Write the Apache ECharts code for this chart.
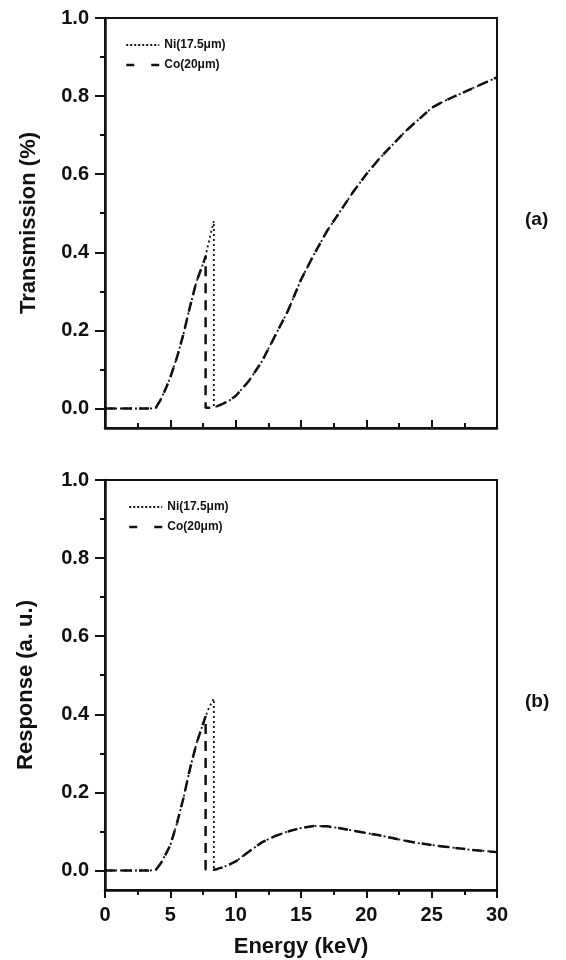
<!DOCTYPE html>
<html>
<head>
<meta charset="utf-8">
<script src="https://cdn.jsdelivr.net/npm/echarts@6/dist/echarts.min.js"></script>
<style>
html,body{margin:0;padding:0;background:#fff;}
#chart{width:566px;height:960px;}
</style>
</head>
<body>
<div id="chart"></div>
<script>
// ---- data ----
const energyNi = [0, 1, 2, 3, 3.5, 3.9, 4.3, 4.7, 5, 5.5, 6, 6.5, 7, 7.5, 7.7, 8, 8.33, 8.33, 8.6, 9, 9.5, 10, 11, 12, 13, 14, 15, 16, 17, 18, 19, 20, 21, 22, 23, 24, 25, 26, 27, 28, 29, 30];
const energyCo = [0, 1, 2, 3, 3.5, 3.9, 4.3, 4.7, 5, 5.5, 6, 6.5, 7, 7.5, 7.7, 7.7, 8, 8.33, 8.6, 9, 9.5, 10, 11, 12, 13, 14, 15, 16, 17, 18, 19, 20, 21, 22, 23, 24, 25, 26, 27, 28, 29, 30];

const transNi = [0, 0, 0, 0, 0, 0.002, 0.025, 0.055, 0.08, 0.13, 0.19, 0.26, 0.325, 0.37, 0.39, 0.435, 0.48, 0.003, 0.006, 0.012, 0.02, 0.032, 0.07, 0.12, 0.185, 0.25, 0.33, 0.395, 0.455, 0.505, 0.555, 0.60, 0.64, 0.675, 0.71, 0.74, 0.77, 0.788, 0.803, 0.818, 0.833, 0.848];
const transCo = [0, 0, 0, 0, 0, 0.002, 0.025, 0.055, 0.08, 0.13, 0.19, 0.26, 0.325, 0.37, 0.39, 0.002, 0.002, 0.003, 0.006, 0.012, 0.02, 0.032, 0.07, 0.12, 0.185, 0.25, 0.33, 0.395, 0.455, 0.505, 0.555, 0.60, 0.64, 0.675, 0.71, 0.74, 0.77, 0.788, 0.803, 0.818, 0.833, 0.848];

const respNi = [0, 0, 0, 0, 0, 0.002, 0.02, 0.045, 0.065, 0.12, 0.185, 0.26, 0.325, 0.375, 0.395, 0.42, 0.44, 0.002, 0.004, 0.008, 0.015, 0.023, 0.048, 0.072, 0.088, 0.1, 0.109, 0.114, 0.113, 0.108, 0.102, 0.096, 0.09, 0.083, 0.076, 0.07, 0.065, 0.061, 0.057, 0.053, 0.05, 0.047];
const respCo = [0, 0, 0, 0, 0, 0.002, 0.02, 0.045, 0.065, 0.12, 0.185, 0.26, 0.325, 0.375, 0.395, 0.002, 0.002, 0.002, 0.004, 0.008, 0.015, 0.023, 0.048, 0.072, 0.088, 0.1, 0.109, 0.114, 0.113, 0.108, 0.102, 0.096, 0.09, 0.083, 0.076, 0.07, 0.065, 0.061, 0.057, 0.053, 0.05, 0.047];

const seriesNames = ['Ni(17.5μm)', 'Co(20μm)'];
const yMajorTicks = [0, 0.2, 0.4, 0.6, 0.8, 1.0];
const yMinorTicks = [0.1, 0.3, 0.5, 0.7, 0.9];
const panelLabels = ['(a)', '(b)'];
const yTitles = ['Transmission (%)', 'Response (a. u.)'];
const xTitle = 'Energy (keV)';

// ---- chart ----
const FONT = '"Liberation Sans", Arial, sans-serif';
const INK = '#111';
const pairs = (xs, ys) => xs.map((x, i) => [x, ys[i]]);

const chart = echarts.init(document.getElementById('chart'), null, {renderer: 'canvas'});

function grid(top) {
  return {left: 105, right: 69, top: top, height: 410, show: true, borderColor: INK, borderWidth: 2, backgroundColor: 'transparent'};
}
function xAxis(idx, bottomPanel) {
  return {
    type: 'value', gridIndex: idx, min: 0, max: 30, interval: 5,
    name: bottomPanel ? xTitle : '', nameLocation: 'middle', nameGap: 46,
    nameTextStyle: {fontFamily: FONT, fontSize: 22, fontWeight: 'bold', color: INK},
    axisLine: {show: true, onZero: false, lineStyle: {color: INK, width: 2.5}},
    axisTick: {show: true, inside: !bottomPanel, length: 8, lineStyle: {color: INK, width: 2}},
    minorTick: {show: true, splitNumber: 2, length: 5, lineStyle: {color: INK, width: 2}},
    axisLabel: {show: bottomPanel, margin: 15, fontFamily: FONT, fontSize: 20, fontWeight: 'bold', color: INK},
    splitLine: {show: false}, minorSplitLine: {show: false}
  };
}
function yAxisMain(idx, title, gap) {
  return {
    type: 'value', gridIndex: idx, min: -0.05, max: 1.0, position: 'left',
    name: title, nameLocation: 'middle', nameGap: gap, nameRotate: 90,
    nameTextStyle: {fontFamily: FONT, fontSize: 22, fontWeight: 'bold', color: INK},
    axisLine: {show: true, onZero: false, lineStyle: {color: INK, width: 2.5}},
    axisTick: {show: true, inside: false, length: 10, customValues: yMajorTicks, lineStyle: {color: INK, width: 2}},
    axisLabel: {show: true, margin: 16, customValues: yMajorTicks, formatter: v => v.toFixed(1), fontFamily: FONT, fontSize: 20, fontWeight: 'bold', color: INK},
    splitLine: {show: false}
  };
}
function yAxisMinor(idx) {
  return {
    type: 'value', gridIndex: idx, min: -0.05, max: 1.0, position: 'left', offset: 0,
    axisLine: {show: false},
    axisTick: {show: true, inside: false, length: 5, customValues: yMinorTicks, lineStyle: {color: INK, width: 2}},
    axisLabel: {show: false},
    splitLine: {show: false}
  };
}
function lineSeries(name, data, xi, yi) {
  const isNi = name === seriesNames[0];
  return {
    type: 'line', name: name, xAxisIndex: xi, yAxisIndex: yi,
    data: data, showSymbol: false, symbol: 'none', smooth: false, animation: false,
    lineStyle: isNi ? {color: INK, width: 1.8, type: [2, 3]} : {color: INK, width: 2.5, type: [10, 7]},
    itemStyle: {color: INK}
  };
}
function legend(top, left) {
  return {
    orient: 'vertical', left: left, top: top, itemWidth: 33, itemHeight: 14, itemGap: 8,
    textStyle: {fontFamily: FONT, fontSize: 12, fontWeight: 'bold', color: INK},
    data: [
      {name: seriesNames[0], itemStyle: {opacity: 0}, lineStyle: {type: [2, 2], width: 1.8, color: INK}},
      {name: seriesNames[1], itemStyle: {opacity: 0}, lineStyle: {type: [8, 17], width: 2.5, color: INK}}
    ],
    selectedMode: false
  };
}

chart.setOption({
  animation: false,
  backgroundColor: '#fff',
  grid: [grid(18), grid(480)],
  xAxis: [xAxis(0, false), xAxis(1, true)],
  yAxis: [yAxisMain(0, yTitles[0], 65), yAxisMinor(0), yAxisMain(1, yTitles[1], 68), yAxisMinor(1)],
  legend: [legend(34, 120), legend(496, 123)],
  series: [
    lineSeries(seriesNames[0], pairs(energyNi, transNi), 0, 0),
    lineSeries(seriesNames[1], pairs(energyCo, transCo), 0, 0),
    lineSeries(seriesNames[0], pairs(energyNi, respNi), 1, 2),
    lineSeries(seriesNames[1], pairs(energyCo, respCo), 1, 2)
  ],
  graphic: [
    {type: 'text', left: 525, top: 210, style: {text: panelLabels[0], font: 'bold 19px ' + FONT, fill: INK}},
    {type: 'text', left: 525, top: 692, style: {text: panelLabels[1], font: 'bold 19px ' + FONT, fill: INK}}
  ]
});
</script>
</body>
</html>
